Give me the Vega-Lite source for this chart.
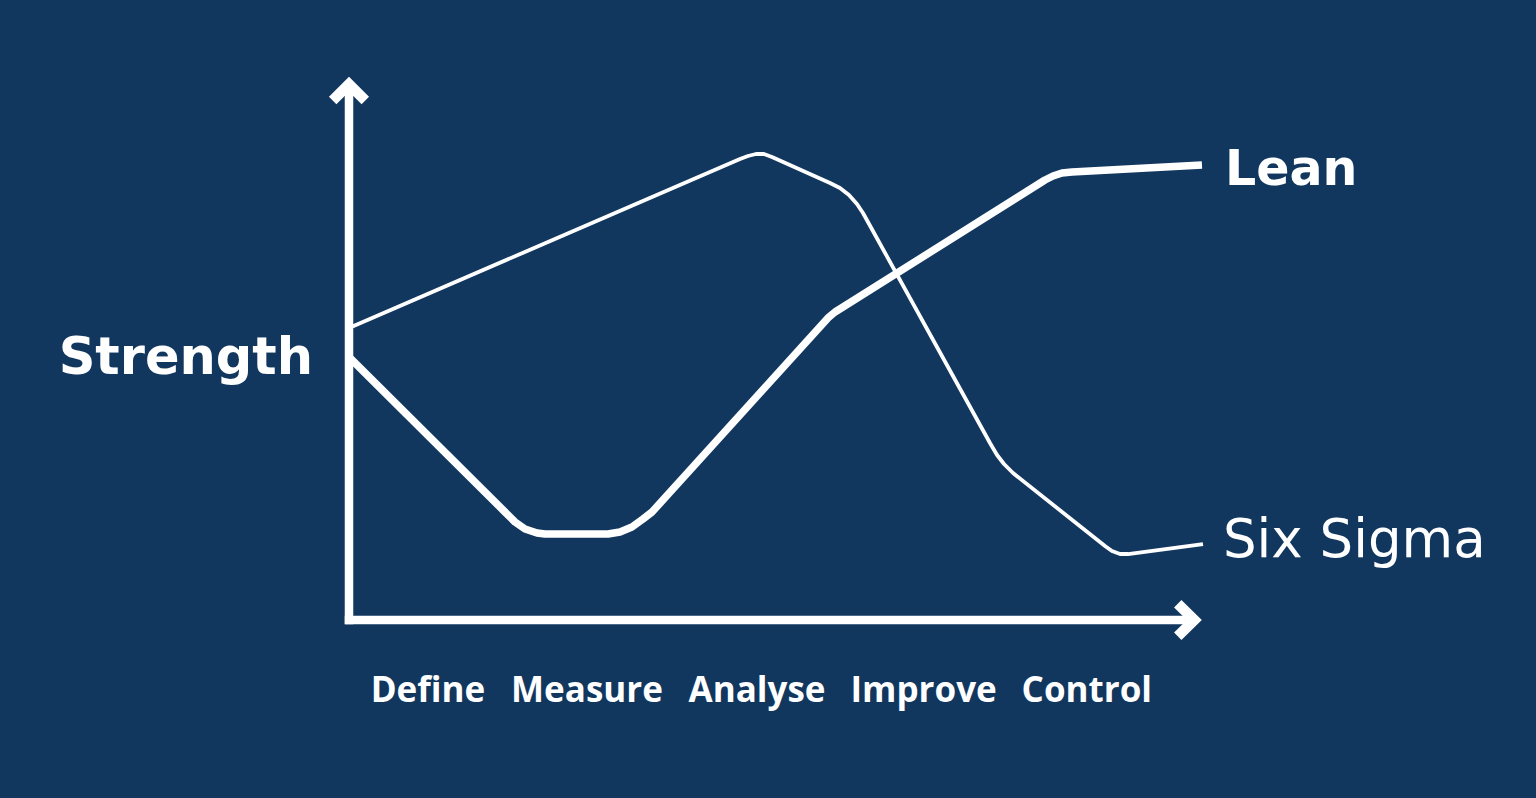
{
  "$schema": "https://vega.github.io/schema/vega-lite/v6.json",
  "width": 850,
  "height": 540,
  "autosize": {"type": "none"},
  "padding": {"left": 349, "top": 80, "right": 337, "bottom": 178},
  "background": "#12375f",
  "config": {"view": {"stroke": null}},
  "datasets": {
    "curves": [
      {"series": "Lean", "i": 1, "x": 0, "y": 48.7},
      {"series": "Lean", "i": 2, "x": 18.35, "y": 20.0},
      {"series": "Lean", "i": 3, "x": 19.53, "y": 18.15},
      {"series": "Lean", "i": 4, "x": 20.71, "y": 16.85},
      {"series": "Lean", "i": 5, "x": 22.12, "y": 16.11},
      {"series": "Lean", "i": 6, "x": 23.06, "y": 15.93},
      {"series": "Lean", "i": 7, "x": 30.47, "y": 15.93},
      {"series": "Lean", "i": 8, "x": 31.88, "y": 16.3},
      {"series": "Lean", "i": 9, "x": 33.29, "y": 17.22},
      {"series": "Lean", "i": 10, "x": 34.59, "y": 18.7},
      {"series": "Lean", "i": 11, "x": 35.65, "y": 20.0},
      {"series": "Lean", "i": 12, "x": 56.35, "y": 55.93},
      {"series": "Lean", "i": 13, "x": 57.18, "y": 57.04},
      {"series": "Lean", "i": 14, "x": 58.12, "y": 57.96},
      {"series": "Lean", "i": 15, "x": 81.88, "y": 81.48},
      {"series": "Lean", "i": 16, "x": 82.82, "y": 82.22},
      {"series": "Lean", "i": 17, "x": 83.88, "y": 82.78},
      {"series": "Lean", "i": 18, "x": 85.06, "y": 82.96},
      {"series": "Lean", "i": 19, "x": 100.35, "y": 84.26},
      {"series": "Six Sigma", "i": 1, "x": 0, "y": 54.07},
      {"series": "Six Sigma", "i": 2, "x": 46.0, "y": 85.37},
      {"series": "Six Sigma", "i": 3, "x": 46.94, "y": 85.93},
      {"series": "Six Sigma", "i": 4, "x": 47.88, "y": 86.3},
      {"series": "Six Sigma", "i": 5, "x": 48.82, "y": 86.3},
      {"series": "Six Sigma", "i": 6, "x": 49.76, "y": 85.74},
      {"series": "Six Sigma", "i": 7, "x": 56.59, "y": 80.93},
      {"series": "Six Sigma", "i": 8, "x": 57.76, "y": 80.0},
      {"series": "Six Sigma", "i": 9, "x": 58.82, "y": 78.7},
      {"series": "Six Sigma", "i": 10, "x": 59.76, "y": 77.04},
      {"series": "Six Sigma", "i": 11, "x": 60.47, "y": 75.37},
      {"series": "Six Sigma", "i": 12, "x": 75.41, "y": 32.78},
      {"series": "Six Sigma", "i": 13, "x": 76.24, "y": 30.56},
      {"series": "Six Sigma", "i": 14, "x": 77.06, "y": 28.89},
      {"series": "Six Sigma", "i": 15, "x": 78.12, "y": 27.22},
      {"series": "Six Sigma", "i": 16, "x": 88.94, "y": 13.7},
      {"series": "Six Sigma", "i": 17, "x": 89.76, "y": 12.78},
      {"series": "Six Sigma", "i": 18, "x": 90.71, "y": 12.22},
      {"series": "Six Sigma", "i": 19, "x": 91.65, "y": 12.22},
      {"series": "Six Sigma", "i": 20, "x": 100.47, "y": 14.07}
    ],
    "axes": [
      {"part": "yaxis", "i": 1, "x": 0, "y": -0.8},
      {"part": "yaxis", "i": 2, "x": 0, "y": 98.8},
      {"part": "xaxis", "i": 1, "x": -0.5, "y": 0},
      {"part": "xaxis", "i": 2, "x": 99.2, "y": 0},
      {"part": "yarrow", "i": 1, "x": -1.92, "y": 96.2},
      {"part": "yarrow", "i": 2, "x": 0, "y": 99.22},
      {"part": "yarrow", "i": 3, "x": 1.92, "y": 96.2},
      {"part": "xarrow", "i": 1, "x": 97.5, "y": 3.02},
      {"part": "xarrow", "i": 2, "x": 99.45, "y": 0},
      {"part": "xarrow", "i": 3, "x": 97.5, "y": -3.02}
    ],
    "stages": [
      {"stage": "Define", "x": 9.29, "y": -15.19},
      {"stage": "Measure", "x": 28.0, "y": -15.19},
      {"stage": "Analyse", "x": 48.0, "y": -15.19},
      {"stage": "Improve", "x": 67.6, "y": -15.19},
      {"stage": "Control", "x": 86.8, "y": -15.19}
    ],
    "labels": [
      {"label": "Strength", "x": -19.2, "y": 45.56, "kind": "axis"},
      {"label": "Lean", "x": 103.06, "y": 80.56, "kind": "lean"},
      {"label": "Six Sigma", "x": 102.82, "y": 11.67, "kind": "six"}
    ]
  },
  "layer": [
    {
      "data": {"name": "axes"},
      "transform": [{"filter": "datum.part === 'yaxis' || datum.part === 'xaxis'"}],
      "mark": {"type": "line", "color": "#ffffff", "strokeWidth": 8.5, "strokeCap": "butt"},
      "encoding": {
        "x": {"field": "x", "type": "quantitative", "scale": {"domain": [0, 100], "nice": false, "zero": false}, "axis": null},
        "y": {"field": "y", "type": "quantitative", "scale": {"domain": [0, 100], "nice": false, "zero": false}, "axis": null},
        "detail": {"field": "part"},
        "order": {"field": "i"}
      }
    },
    {
      "data": {"name": "axes"},
      "transform": [{"filter": "datum.part === 'yarrow' || datum.part === 'xarrow'"}],
      "mark": {"type": "line", "color": "#ffffff", "strokeWidth": 10.5, "strokeCap": "butt", "strokeJoin": "miter"},
      "encoding": {
        "x": {"field": "x", "type": "quantitative"},
        "y": {"field": "y", "type": "quantitative"},
        "detail": {"field": "part"},
        "order": {"field": "i"}
      }
    },
    {
      "data": {"name": "curves"},
      "transform": [{"filter": "datum.series === 'Six Sigma'"}],
      "mark": {"type": "line", "color": "#ffffff", "strokeWidth": 3.8, "strokeJoin": "round", "strokeCap": "butt"},
      "encoding": {
        "x": {"field": "x", "type": "quantitative"},
        "y": {"field": "y", "type": "quantitative"},
        "order": {"field": "i"}
      }
    },
    {
      "data": {"name": "curves"},
      "transform": [{"filter": "datum.series === 'Lean'"}],
      "mark": {"type": "line", "color": "#ffffff", "strokeWidth": 7.5, "strokeJoin": "round", "strokeCap": "butt"},
      "encoding": {
        "x": {"field": "x", "type": "quantitative"},
        "y": {"field": "y", "type": "quantitative"},
        "order": {"field": "i"}
      }
    },
    {
      "data": {"name": "stages"},
      "mark": {"type": "text", "color": "#ffffff", "font": "Open Sans", "fontWeight": 700, "fontSize": 35, "align": "center", "baseline": "alphabetic"},
      "encoding": {
        "x": {"field": "x", "type": "quantitative"},
        "y": {"field": "y", "type": "quantitative"},
        "text": {"field": "stage"}
      }
    },
    {
      "data": {"name": "labels"},
      "transform": [{"filter": "datum.kind === 'axis'"}],
      "mark": {"type": "text", "color": "#ffffff", "font": "DejaVu Sans", "fontWeight": "bold", "fontSize": 51, "align": "center", "baseline": "alphabetic"},
      "encoding": {
        "x": {"field": "x", "type": "quantitative"},
        "y": {"field": "y", "type": "quantitative"},
        "text": {"field": "label"}
      }
    },
    {
      "data": {"name": "labels"},
      "transform": [{"filter": "datum.kind === 'lean'"}],
      "mark": {"type": "text", "color": "#ffffff", "font": "DejaVu Sans", "fontWeight": "bold", "fontSize": 49, "align": "left", "baseline": "alphabetic"},
      "encoding": {
        "x": {"field": "x", "type": "quantitative"},
        "y": {"field": "y", "type": "quantitative"},
        "text": {"field": "label"}
      }
    },
    {
      "data": {"name": "labels"},
      "transform": [{"filter": "datum.kind === 'six'"}],
      "mark": {"type": "text", "color": "#ffffff", "font": "DejaVu Sans", "fontWeight": 400, "fontSize": 53, "align": "left", "baseline": "alphabetic"},
      "encoding": {
        "x": {"field": "x", "type": "quantitative"},
        "y": {"field": "y", "type": "quantitative"},
        "text": {"field": "label"}
      }
    }
  ]
}
